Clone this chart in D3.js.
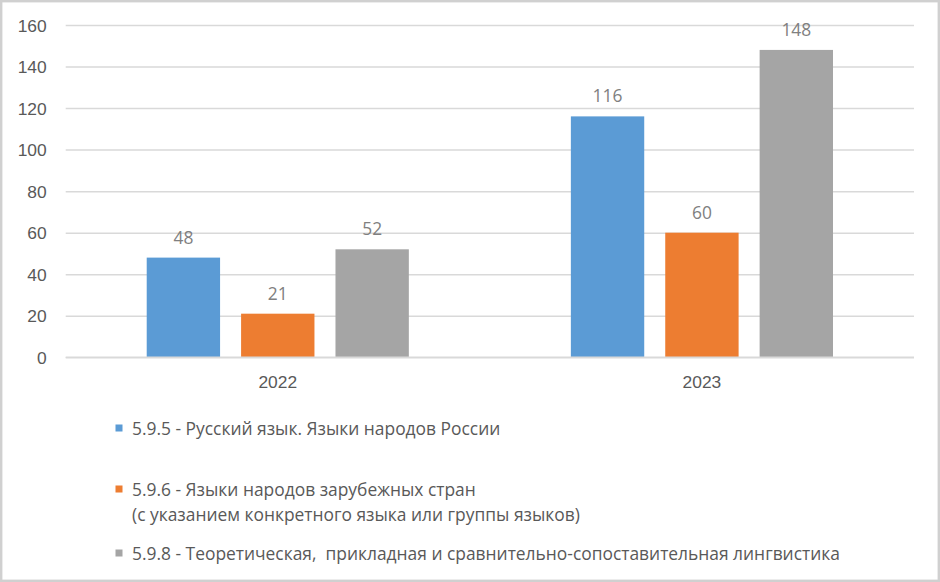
<!DOCTYPE html>
<html><head><meta charset="utf-8">
<script src="https://cdn.jsdelivr.net/npm/d3@7/dist/d3.min.js"></script>
<style>
html,body{margin:0;padding:0;background:#fff;}
svg{display:block;font-family:"Open Sans","Noto Sans",sans-serif;}
text{white-space:pre;}
</style></head>
<body><svg id="chart" width="940" height="582"></svg>
<script>
const categories = ["2022", "2023"];
const seriesNames = [
  ["5.9.5 - Русский язык. Языки народов России"],
  ["5.9.6 - Языки народов зарубежных стран", "(с указанием конкретного языка или группы языков)"],
  ["5.9.8 - Теоретическая,  прикладная и сравнительно-сопоставительная лингвистика"]
];
const s595 = [48, 116];
const s596 = [21, 60];
const s598 = [52, 148];
const yTicks = [0, 20, 40, 60, 80, 100, 120, 140, 160];
const colors = ["#5B9BD5", "#ED7D31", "#A5A5A5"];
const seriesValues = [s595, s596, s598];
const FS = "17.4px";

const svg = d3.select("#chart");
svg.append("rect").attr("x",1.2).attr("y",1.2).attr("width",937.6).attr("height",579.6)
  .attr("fill","#fff").attr("stroke","#d0d0d0").attr("stroke-width",2.4);

const plotL = 65.7, plotR = 914, plotT = 25, plotB = 357.3;
const y = d3.scaleLinear().domain([0,160]).range([plotB, plotT]);
const x0 = d3.scaleBand().domain(categories).range([plotL, plotR]).paddingInner(0.382).paddingOuter(0.191);
const x1 = d3.scaleBand().domain([0,1,2]).range([0, x0.bandwidth()]).paddingInner(0.2227).paddingOuter(0);

const yAxis = d3.axisLeft(y).tickValues(yTicks).tickSize(-(plotR-plotL)).tickPadding(19).tickFormat(d3.format("d"));
const ga = svg.append("g").attr("transform",`translate(${plotL},0)`).call(yAxis);
ga.select(".domain").remove();
ga.selectAll(".tick line").attr("stroke","#d9d9d9").attr("stroke-width",1.5);
ga.selectAll(".tick text").attr("fill","#595959").style("font-size",FS).attr("dy","0.35em");

const groups = svg.append("g").selectAll("g").data(categories).join("g")
  .attr("transform", d => `translate(${x0(d)},0)`);
groups.selectAll("rect").data((c,ci) => seriesValues.map((s,si) => ({si, v: s[ci]}))).join("rect")
  .attr("x", d => x1(d.si)).attr("width", x1.bandwidth())
  .attr("y", d => y(d.v)).attr("height", d => y(0) - y(d.v))
  .attr("fill", d => colors[d.si]);
groups.selectAll("text").data((c,ci) => seriesValues.map((s,si) => ({si, v: s[ci]}))).join("text")
  .attr("x", d => x1(d.si) + x1.bandwidth()/2).attr("y", d => y(d.v) - 14)
  .attr("text-anchor","middle").attr("fill","#808080").style("font-size",FS).text(d => d.v);

const xAxis = d3.axisBottom(x0).tickSize(0).tickPadding(18);
const gx = svg.append("g").attr("transform",`translate(0,${plotB})`).call(xAxis);
gx.select(".domain").attr("stroke","#d9d9d9").attr("stroke-width",1.5).attr("d",`M${plotL},0H${plotR}`);
gx.selectAll(".tick text").attr("fill","#595959").style("font-size",FS);

const legendY = [435, 496, 560];
const lg = svg.append("g");
seriesNames.forEach((lines, i) => {
  lg.append("rect").attr("x",115.5).attr("y",legendY[i]-10.5).attr("width",7).attr("height",7).attr("fill",colors[i]);
  const t = lg.append("text").attr("x",132).attr("y",legendY[i]).attr("fill","#595959").style("font-size",FS);
  lines.forEach((ln, j) => {
    t.append("tspan").attr("x", 132).attr("dy", j===0 ? 0 : 24.5).text(ln);
  });
});
</script></body></html>
